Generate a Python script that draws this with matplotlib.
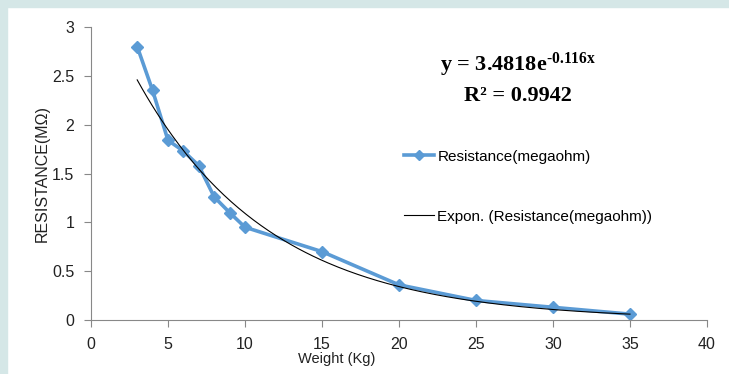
import numpy as np
import matplotlib.pyplot as plt
from matplotlib.lines import Line2D
from matplotlib.patches import Rectangle

# ================= Data Section =================
weight_kg = [3, 4, 5, 6, 7, 8, 9, 10, 15, 20, 25, 30, 35]
resistance_mohm = [2.80, 2.35, 1.84, 1.73, 1.58, 1.26, 1.10, 0.95, 0.70, 0.36, 0.20, 0.13, 0.06]

# exponential trendline as printed on the chart
fit_a = 3.4818
fit_b = -0.116
fit_r2 = 0.9942

x_ticks = [0, 5, 10, 15, 20, 25, 30, 35, 40]
y_ticks = [0, 0.5, 1, 1.5, 2, 2.5, 3]
y_tick_labels = ['0', '0.5', '1', '1.5', '2', '2.5', '3']

# ================= Style =================
plt.rcParams['font.family'] = ['Liberation Sans', 'DejaVu Sans']
plt.rcParams['mathtext.fontset'] = 'custom'
plt.rcParams['mathtext.bf'] = 'Liberation Serif:bold'
plt.rcParams['mathtext.rm'] = 'Liberation Serif:bold'
plt.rcParams['mathtext.it'] = 'Liberation Serif:bold'

W, H = 729, 374
fig = plt.figure(figsize=(W / 100, H / 100), dpi=100)
fig.patch.set_facecolor('white')

# teal frame at top and left
bg = '#d5e7e7'
fig.patches.append(Rectangle((0, 1 - 7 / H), 1, 7 / H, transform=fig.transFigure, color=bg, zorder=0))
fig.patches.append(Rectangle((0, 0), 7 / W, 1, transform=fig.transFigure, color=bg, zorder=0))

ax = fig.add_axes([91 / W, 1 - 320 / H, 616 / W, 293 / H])

blue = '#5b9bd5'
ax.plot(weight_kg, resistance_mohm, color=blue, linewidth=2.6, marker='D', markersize=6,
        markeredgecolor=blue, markerfacecolor=blue, zorder=2)

trend_x = np.linspace(min(weight_kg), max(weight_kg), 200)
ax.plot(trend_x, fit_a * np.exp(fit_b * trend_x), color='black', linewidth=0.8, zorder=3)

# ================= Axes =================
ax.set_xlim(0, 40)
ax.set_ylim(0, 3)
ax.set_xticks(x_ticks)
ax.set_yticks(y_ticks)
ax.set_yticklabels(y_tick_labels)
for s in ['top', 'right']:
    ax.spines[s].set_visible(False)
for s in ['left', 'bottom']:
    ax.spines[s].set_color('#888888')
    ax.spines[s].set_linewidth(0.8)
ax.tick_params(direction='out', length=5, width=0.8, color='#888888', labelsize=11.5, labelcolor='#222222')
ax.tick_params(axis='x', pad=7)
ax.tick_params(axis='y', pad=7)

fig.text(42 / W, 1 - 173 / H, 'RESISTANCE(MΩ)', rotation=90, ha='center', va='center',
         fontsize=11.5, color='#222222')
fig.text(337 / W, 1 - 359 / H, 'Weight (Kg)', ha='center', va='center', fontsize=10.5, color='#222222')

# ================= Equation =================
fig.text(518 / W, 1 - 65 / H, r'y = 3.4818e$^{\text{-0.116x}}$', ha='center', va='center',
         fontsize=16, fontweight='bold', family='Liberation Serif', color='black')
fig.text(518 / W, 1 - 96 / H, 'R² = %.4f' % fit_r2, ha='center', va='center',
         fontsize=16, fontweight='bold', family='Liberation Serif', color='black')

# ================= Legend =================
handles = [
    Line2D([], [], color=blue, linewidth=2.6, marker='D', markersize=5),
    Line2D([], [], color='black', linewidth=0.8),
]
labels = ['Resistance(megaohm)', 'Expon. (Resistance(megaohm))']
fig.legend(handles, labels, loc='upper left', bbox_to_anchor=(390 / W, 1 - 136 / H),
           frameon=False, fontsize=11, handlelength=2.0, handletextpad=0.2,
           labelspacing=3.0, markerfirst=True)

plt.savefig('out.png', dpi=100)
